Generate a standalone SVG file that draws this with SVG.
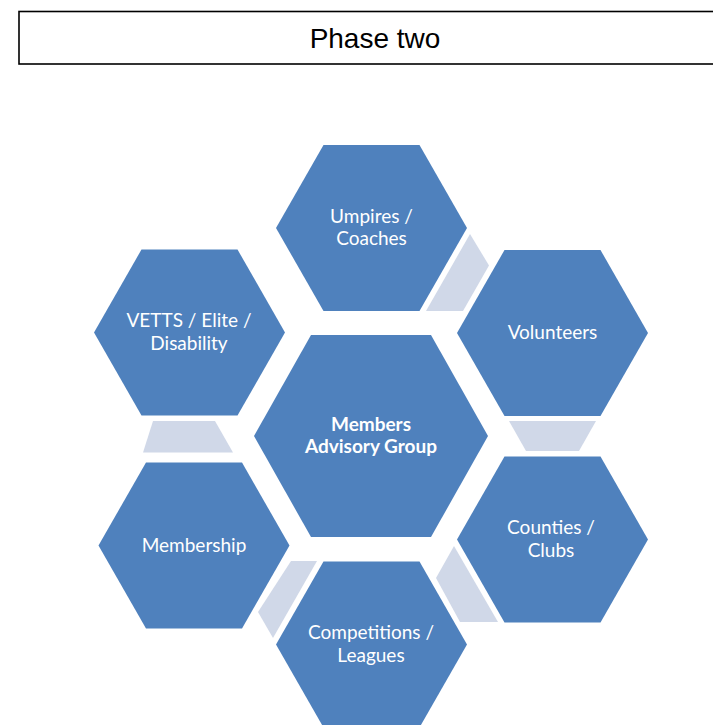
<svg xmlns="http://www.w3.org/2000/svg" width="713" height="725" viewBox="0 0 713 725">
  <style>
    .hex { fill: #4F81BD; }
    .link { fill: #D0D8E8; }
    .lbl { font-family: Lato, "Open Sans", "Liberation Sans", sans-serif; font-size: 19px; fill: #FFFFFF; text-anchor: middle; }
    .bold { font-weight: bold; }
    .title { font-family: "Liberation Sans", Arial, sans-serif; font-size: 28px; fill: #000000; text-anchor: middle; }
  </style>
  <defs>
    <path id="hexS" d="M-95.5,0 L-48,-83 L48,-83 L95.5,0 L48,83 L-48,83 Z"/>
    <path id="hexL" d="M-117,0 L-60,-101 L60,-101 L117,0 L60,101 L-60,101 Z"/>
  </defs>
  <rect width="713" height="725" fill="#FFFFFF"/>
  <g id="title">
    <rect x="19" y="11.5" width="710" height="52.5" fill="#FFFFFF" stroke="#000000" stroke-width="1.6"/>
    <text class="title" x="375" y="48">Phase two</text>
  </g>
  <g id="connectors">
    <polygon class="link" points="470,234 489,265.5 463,311 426,311"/>
    <polygon class="link" points="509,421 596,421 579,451 526,451"/>
    <polygon class="link" points="454,546 436,578 460,622 498,622"/>
    <polygon class="link" points="291,561 317,561 273,638 258,612"/>
    <polygon class="link" points="153,421 215,421 233,452.5 143,452.5"/>
  </g>
  <g id="center">
    <use href="#hexL" class="hex" x="371" y="436"/>
    <text class="lbl bold" x="371" y="431">Members</text>
    <text class="lbl bold" x="371" y="452.5">Advisory Group</text>
  </g>
  <g id="umpires">
    <use href="#hexS" class="hex" x="371.5" y="228"/>
    <text class="lbl" x="371.5" y="223">Umpires /</text>
    <text class="lbl" x="371.5" y="245">Coaches</text>
  </g>
  <g id="volunteers">
    <use href="#hexS" class="hex" x="552.5" y="333"/>
    <text class="lbl" x="552.5" y="339">Volunteers</text>
  </g>
  <g id="counties">
    <use href="#hexS" class="hex" x="552.5" y="539.5"/>
    <text class="lbl" x="551" y="534">Counties /</text>
    <text class="lbl" x="551" y="557">Clubs</text>
  </g>
  <g id="competitions">
    <use href="#hexS" class="hex" x="371.5" y="644.5"/>
    <text class="lbl" x="371" y="639">Competitions /</text>
    <text class="lbl" x="371" y="662">Leagues</text>
  </g>
  <g id="membership">
    <use href="#hexS" class="hex" x="194" y="545.5"/>
    <text class="lbl" x="194" y="552">Membership</text>
  </g>
  <g id="vetts">
    <use href="#hexS" class="hex" x="189.5" y="332.5"/>
    <text class="lbl" x="189" y="327">VETTS / Elite /</text>
    <text class="lbl" x="189" y="350">Disability</text>
  </g>
</svg>
